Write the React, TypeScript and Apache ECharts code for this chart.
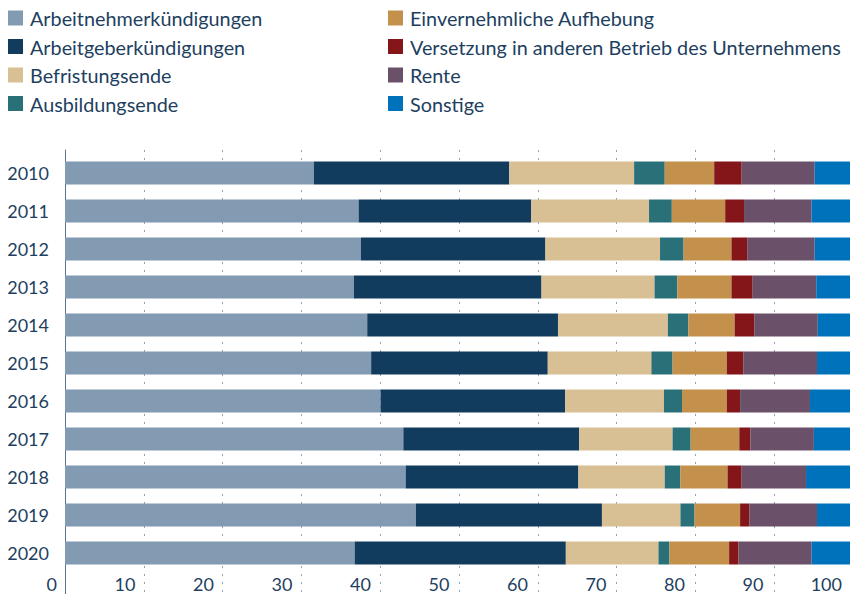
import React, { useEffect, useRef } from "react";
import * as echarts from "echarts";

const years = ["2010", "2011", "2012", "2013", "2014", "2015", "2016", "2017", "2018", "2019", "2020"];

const seriesNames = [
  "Arbeitnehmerkündigungen",
  "Arbeitgeberkündigungen",
  "Befristungsende",
  "Ausbildungsende",
  "Einvernehmliche Aufhebung",
  "Versetzung in anderen Betrieb des Unternehmens",
  "Rente",
  "Sonstige",
];

const colors = ["#829bb2", "#123c5d", "#d9bf94", "#297078", "#c4914d", "#841518", "#6a5068", "#0072bc"];

const arbeitnehmer = [31.7, 37.4, 37.7, 36.8, 38.5, 39.0, 40.2, 43.1, 43.4, 44.7, 36.9];
const arbeitgeber = [24.9, 22.0, 23.5, 23.9, 24.3, 22.5, 23.5, 22.4, 22.0, 23.7, 26.9];
const befristung = [15.9, 15.0, 14.6, 14.4, 14.0, 13.2, 12.6, 11.9, 11.0, 10.0, 11.8];
const ausbildung = [3.9, 2.9, 3.0, 2.9, 2.6, 2.7, 2.3, 2.3, 2.0, 1.8, 1.4];
const einvernehmlich = [6.3, 6.8, 6.1, 6.9, 5.9, 6.9, 5.7, 6.2, 6.0, 5.8, 7.6];
const versetzung = [3.5, 2.4, 2.0, 2.7, 2.5, 2.1, 1.7, 1.4, 1.8, 1.2, 1.2];
const rente = [9.3, 8.6, 8.6, 8.1, 8.1, 9.4, 8.9, 8.1, 8.2, 8.6, 9.3];
const sonstige = [4.5, 4.9, 4.5, 4.3, 4.1, 4.2, 5.1, 4.6, 5.6, 4.2, 4.9];

const seriesValues = [arbeitnehmer, arbeitgeber, befristung, ausbildung, einvernehmlich, versetzung, rente, sonstige];

const xTicks = { min: 0, max: 100, interval: 10 };

const FONT = "Lato, 'Noto Sans', sans-serif";
const TEXT = "#1e3f5f";

export default function App() {
  const ref = useRef<HTMLDivElement>(null);
  useEffect(() => {
    document.body.style.margin = "0";
    document.documentElement.style.overflow = "hidden";
    document.body.style.overflow = "hidden";
    if (!ref.current) return;
    const chart = echarts.init(ref.current, undefined, { renderer: "svg", width: 853, height: 594 });
    const legendBase = {
      orient: "vertical" as const,
      icon: "rect",
      itemWidth: 15,
      itemHeight: 15,
      itemGap: 8.5,
      padding: 0,
      selectedMode: false,
      textStyle: { color: TEXT, fontSize: 19.8, fontFamily: FONT, lineHeight: 20, padding: [0, 0, 0, 2] },
      top: 8,
    };
    chart.setOption({
      animation: false,
      legend: [
        { ...legendBase, left: 8, data: seriesNames.slice(0, 4) },
        { ...legendBase, left: 388, data: seriesNames.slice(4) },
      ],
      grid: [
        { left: 65, width: 788, top: 154, height: 418, containLabel: false },
        { left: 65, width: 788, top: 150, height: 444, containLabel: false },
      ],
      xAxis: [
        {
          type: "value",
          gridIndex: 0,
          min: xTicks.min,
          max: xTicks.max,
          interval: xTicks.interval,
          axisLine: { show: false },
          axisTick: { show: false },
          splitLine: { show: false },
          axisLabel: {
            color: TEXT,
            fontSize: 18,
            fontFamily: FONT,
            lineHeight: 18,
            align: "right",
            padding: [0, 8, 0, 0],
            margin: 3,
          },
        },
        {
          type: "value",
          gridIndex: 1,
          min: xTicks.min,
          max: xTicks.max,
          interval: xTicks.interval,
          axisLine: { show: false },
          axisTick: { show: false },
          axisLabel: { show: false },
          splitLine: { show: true, lineStyle: { color: "#8ca3ba", width: 1, type: [2, 6] } },
        },
      ],
      yAxis: [
        {
          type: "category",
          gridIndex: 0,
          data: years,
          inverse: true,
          axisLine: { show: false },
          axisTick: { show: false },
          axisLabel: { color: TEXT, fontSize: 18, fontFamily: FONT, margin: 16 },
        },
        {
          type: "value",
          gridIndex: 1,
          min: 0,
          max: 1,
          axisLine: { show: true, onZero: false, lineStyle: { color: "#5a7590", width: 1 } },
          axisTick: { show: false },
          axisLabel: { show: false },
          splitLine: { show: false },
        },
      ],
      series: seriesNames.map((name, i) => ({
        name,
        type: "bar",
        stack: "total",
        barWidth: 23,
        xAxisIndex: 0,
        yAxisIndex: 0,
        itemStyle: { color: colors[i] },
        data: seriesValues[i],
      })),
    });
    return () => chart.dispose();
  }, []);
  return <div ref={ref} style={{ width: 853, height: 594, overflow: "hidden" }} />;
}
